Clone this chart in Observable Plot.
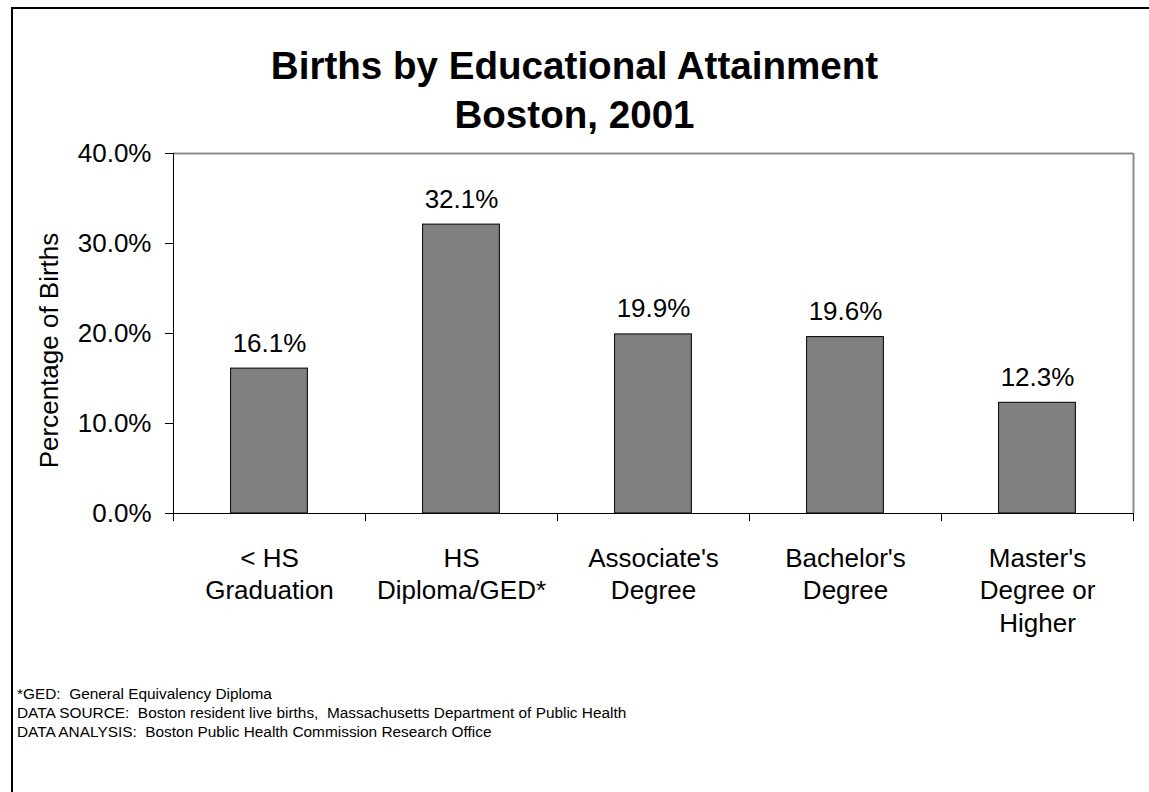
<!DOCTYPE html>
<html>
<head>
<meta charset="utf-8">
<script src="https://cdn.jsdelivr.net/npm/d3@7"></script>
<script src="https://cdn.jsdelivr.net/npm/@observablehq/plot@0.6"></script>
<style>
  html, body { margin: 0; padding: 0; background: #fff; overflow: hidden; }
  body { width: 1149px; height: 792px; position: relative; font-family: "Liberation Sans", Arial, sans-serif; color: #000; }
  #border { position: absolute; left: 11px; top: 7px; width: 1300px; height: 1000px; border-left: 2px solid #000; border-top: 2px solid #000; }
  #title { position: absolute; left: 0; top: 41px; width: 1149px; text-align: center; font-weight: bold; font-size: 38.6px; line-height: 49px; z-index: 2; }
  #chart { position: absolute; left: 0; top: 120px; z-index: 1; }
  #notes { position: absolute; left: 17px; top: 684px; font-size: 15.4px; line-height: 19px; white-space: pre; }
</style>
</head>
<body>
<div id="border"></div>
<div id="title"><div>Births by Educational Attainment</div><div>Boston, 2001</div></div>
<div id="chart"></div>
<div id="notes"></div>
<script>
const categories = ["< HS\nGraduation", "HS\nDiploma/GED*", "Associate's\nDegree", "Bachelor's\nDegree", "Master's\nDegree or\nHigher"];
const percentages = [16.1, 32.1, 19.9, 19.6, 12.3];
const yTicks = [0, 10, 20, 30, 40];
const yLabel = "Percentage of Births";
const notes = [
  "*GED:  General Equivalency Diploma",
  "DATA SOURCE:  Boston resident live births,  Massachusetts Department of Public Health",
  "DATA ANALYSIS:  Boston Public Health Commission Research Office"
];

document.getElementById("notes").textContent = notes.join("\n");

const data = categories.map((c, i) => ({category: c, index: i, value: percentages[i]}));
const boundaries = d3.range(categories.length + 1);
const centers = categories.map((c, i) => i + 0.5);

const chart = Plot.plot({
  width: 1149,
  height: 540,
  marginLeft: 173,
  marginRight: 16,
  marginTop: 33,
  marginBottom: 147,
  style: {fontFamily: "'Liberation Sans', Arial, sans-serif", fontSize: "26px", color: "#000", background: "transparent"},
  x: {type: "linear", domain: [0, categories.length]},
  y: {domain: [0, 40]},
  marks: [
    Plot.ruleY([40], {stroke: "#8c8c8c", strokeWidth: 2}),
    Plot.ruleX([categories.length], {stroke: "#8c8c8c", strokeWidth: 2}),
    Plot.rectY(data, {x1: d => d.index + 0.3, x2: d => d.index + 0.7, y1: 0, y2: "value", fill: "#808080", stroke: "#000", strokeWidth: 1}),
    Plot.ruleX([0], {stroke: "#000", strokeWidth: 1}),
    Plot.ruleY([0], {stroke: "#000", strokeWidth: 1}),
    Plot.axisY({ticks: yTicks, tickFormat: d => d.toFixed(1) + "%", tickSize: 8, tickPadding: 14, label: null, fontSize: 26, stroke: "#000"}),
    Plot.axisX({ticks: boundaries, tickFormat: () => "", tickSize: 8, label: null, stroke: "#000"}),
    Plot.axisX({ticks: centers, tickFormat: v => categories[Math.floor(v)], tickSize: 0, tickPadding: 30, lineHeight: 1.25, label: null, fontSize: 26}),
    Plot.text(data, {x: d => d.index + 0.5, y: "value", text: d => d.value.toFixed(1) + "%", dy: -17, lineAnchor: "bottom", fontSize: 26, fill: "#000"}),
    Plot.text([yLabel], {frameAnchor: "left", text: d => d, rotate: -90, dx: -116, dy: 17, lineAnchor: "bottom", textAnchor: "middle", fontSize: 26, fill: "#000"})
  ]
});
document.getElementById("chart").appendChild(chart);
</script>
</body>
</html>
